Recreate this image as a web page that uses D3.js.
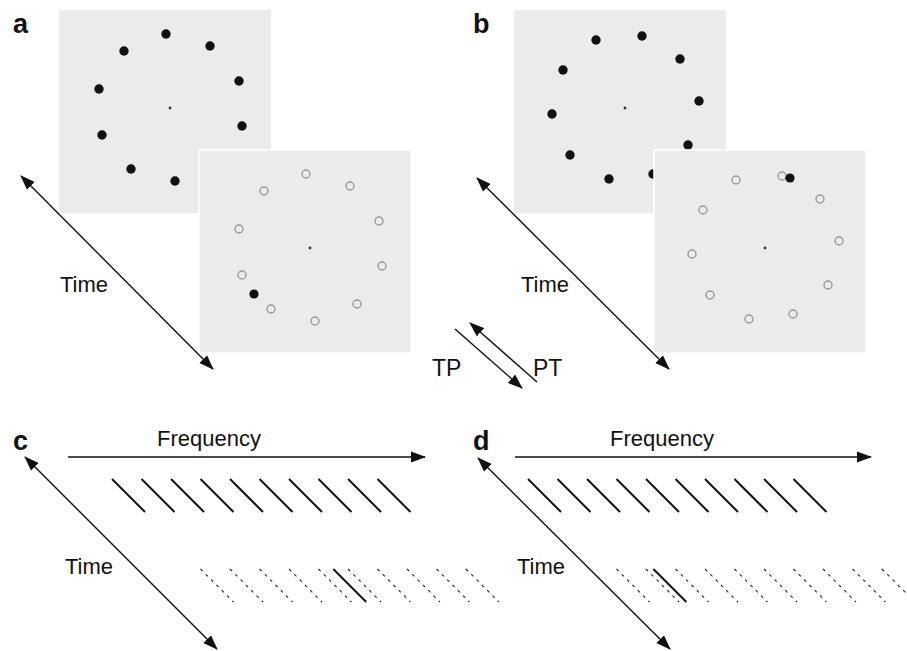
<!DOCTYPE html>
<html>
<head>
<meta charset="utf-8">
<script src="https://cdn.jsdelivr.net/npm/d3@7"></script>
<style>
  body { margin: 0; background: #fff; }
  text { font-family: "Liberation Sans", Arial, sans-serif; fill: #111; }
</style>
</head>
<body>
<div id="main-chart"></div>
<script>
var width = 907, height = 651;

// stimulus dot positions, in stimulus units (square is 212 x 203)
var dotsA = [[107,24],[151,36],[65,41],[180,71],[40,79],[183,116],[43,125],[72,159],[116,171],[158,154]];
var probeA = [55,144];
var dotsB = [[82,30],[128,26],[166,49],[49,60],[185,91],[38,104],[174,135],[56,145],[95,169],[139,164]];
var probeB = [136,28];
var fixation = [111,98];

// frequency positions (component index) for the lower panels
var sampleFreqs = [1,2,3,4,5,6,7,8,9,10];
var testFreqs = [4,5,6,7,8,9,10,11,12,13];
var probeC = 8.5;
var probeD = 5.25;

var panelLabels = ["a", "b", "c", "d"];

var svg = d3.select("#main-chart")
  .append("svg")
  .attr("width", width)
  .attr("height", height);

var defs = svg.append("defs");
defs.append("marker")
  .attr("id", "head")
  .attr("viewBox", "0 -6 15 12")
  .attr("refX", 14)
  .attr("refY", 0)
  .attr("markerWidth", 15)
  .attr("markerHeight", 12)
  .attr("markerUnits", "userSpaceOnUse")
  .attr("orient", "auto-start-reverse")
  .append("path")
  .attr("d", "M0,-5.5L15,0L0,5.5Z")
  .attr("fill", "#111");

function arrow(x1, y1, x2, y2, both) {
  var l = svg.append("line")
    .attr("x1", x1).attr("y1", y1)
    .attr("x2", x2).attr("y2", y2)
    .attr("stroke", "#111")
    .attr("stroke-width", 1.4)
    .attr("marker-end", "url(#head)");
  if (both) l.attr("marker-start", "url(#head)");
}

function label(x, y, txt, size, bold) {
  svg.append("text")
    .attr("x", x).attr("y", y)
    .attr("font-size", size)
    .attr("font-weight", bold ? "bold" : "normal")
    .text(txt);
}

// one stimulus display: grey square with dots
function stimulus(x0, y0, dots, probe, front) {
  var sx = d3.scaleLinear().domain([0, 212]).range([x0, x0 + 212]);
  var sy = d3.scaleLinear().domain([0, 203]).range([y0, y0 + 203]);
  var g = svg.append("g");
  g.append("rect")
    .attr("x", sx(0)).attr("y", sy(0))
    .attr("width", sx(212) - sx(0)).attr("height", sy(203) - sy(0))
    .attr("fill", "#ebebeb")
    .attr("stroke", front ? "#fff" : "none")
    .attr("stroke-width", 1.5);
  g.selectAll("circle.dot")
    .data(dots)
    .enter()
    .append("circle")
    .attr("class", "dot")
    .attr("cx", d => sx(d[0]))
    .attr("cy", d => sy(d[1]))
    .attr("r", front ? 4 : 4.7)
    .attr("fill", front ? "none" : "#111")
    .attr("stroke", front ? "#999" : "none")
    .attr("stroke-width", 1.4);
  if (probe) {
    g.append("circle")
      .attr("cx", sx(probe[0])).attr("cy", sy(probe[1]))
      .attr("r", 4.6).attr("fill", "#111");
  }
  g.append("circle")
    .attr("cx", sx(fixation[0])).attr("cy", sy(fixation[1]))
    .attr("r", 1.4).attr("fill", "#333");
}

// panels a and b
stimulus(59, 10, dotsA, null, false);
stimulus(199, 150, dotsA, probeA, true);
stimulus(514, 10, dotsB, null, false);
stimulus(654, 150, dotsB, probeB, true);

arrow(21, 176, 213, 369, true);
arrow(477, 178, 669, 369, true);
label(60, 292, "Time", 22);
label(521, 292, "Time", 22);

// TP / PT arrows
arrow(455, 329, 522, 388, false);
arrow(537, 382, 470, 323, false);
label(432, 376, "TP", 23);
label(533, 376, "PT", 23);

// panels c and d: tone glides
function glides(x1, probe) {
  var x = d3.scaleLinear().domain([1, 2]).range([x1, x1 + 29.5]);
  var g = svg.append("g");
  g.selectAll("line.sample")
    .data(sampleFreqs)
    .enter()
    .append("line")
    .attr("x1", d => x(d)).attr("y1", 479)
    .attr("x2", d => x(d) + 33).attr("y2", 512)
    .attr("stroke", "#111")
    .attr("stroke-width", 2);
  g.selectAll("line.test")
    .data(testFreqs)
    .enter()
    .append("line")
    .attr("x1", d => x(d)).attr("y1", 569)
    .attr("x2", d => x(d) + 33).attr("y2", 602)
    .attr("stroke", "#222")
    .attr("stroke-width", 1.1)
    .attr("stroke-dasharray", "3,4.5");
  g.append("line")
    .attr("x1", x(probe)).attr("y1", 569)
    .attr("x2", x(probe) + 33).attr("y2", 602)
    .attr("stroke", "#111")
    .attr("stroke-width", 2);
}

glides(112, probeC);
glides(528, probeD);

arrow(68, 457, 425, 457, false);
arrow(515, 457, 871, 457, false);
label(157, 446, "Frequency", 22);
label(610, 446, "Frequency", 22);

arrow(25, 457, 217, 649, true);
arrow(478, 458, 670, 649, true);
label(65, 574, "Time", 22);
label(517, 574, "Time", 22);

// panel letters
var letterPos = [[13, 33], [473, 33], [13, 450], [473, 450]];
panelLabels.forEach(function(t, i) {
  label(letterPos[i][0], letterPos[i][1], t, 27, true);
});
</script>
</body>
</html>
